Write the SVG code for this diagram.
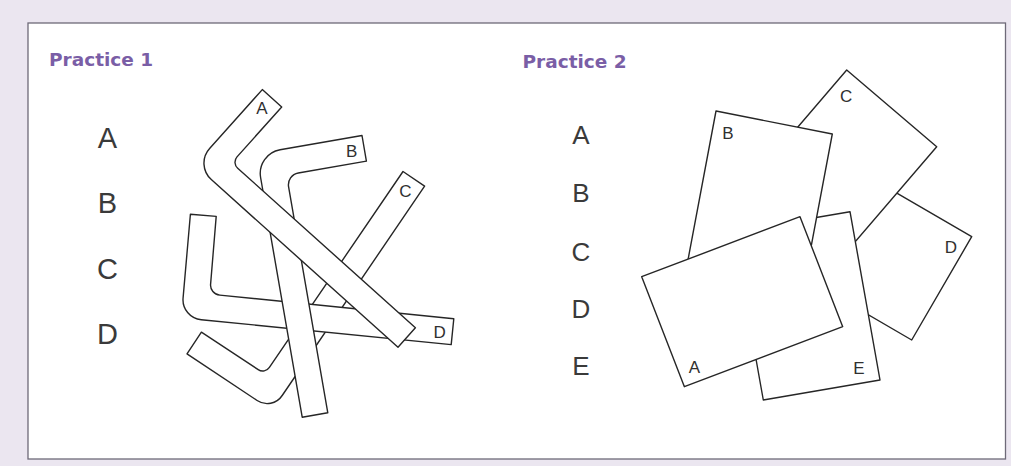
<svg xmlns="http://www.w3.org/2000/svg" width="1011" height="466" viewBox="0 0 1011 466">
<style>
.bg{fill:#ebe6f0}
.frame{fill:#ffffff;stroke:#6e6a78;stroke-width:1.3}
.shape{fill:#ffffff;stroke:#262626;stroke-width:1.4;stroke-linejoin:round}
.title{font-family:"DejaVu Sans","Liberation Sans",sans-serif;font-weight:bold;font-size:18.5px;fill:#7a5ea6}
.big{font-family:"Liberation Sans",Arial,sans-serif;fill:#3a3a3a;text-anchor:middle}
.lbl{font-family:"Liberation Sans",Arial,sans-serif;font-size:17px;fill:#303030;text-anchor:middle}
</style>
<rect class="bg" x="0" y="0" width="1011" height="466"/>
<rect class="frame" x="28" y="23" width="977.5" height="436"/>

<g id="practice1-title"><text class="title" x="49" y="65.5">Practice 1</text></g>
<g id="practice2-title"><text class="title" x="522.5" y="67.5">Practice 2</text></g>

<g id="practice1-options" class="big" font-size="29">
<text x="107.5" y="147.7">A</text>
<text x="107.5" y="213">B</text>
<text x="107.5" y="278.5">C</text>
<text x="107.5" y="344">D</text>
</g>

<g id="practice2-options" class="big" font-size="26">
<text x="581" y="143.5">A</text>
<text x="581" y="202">B</text>
<text x="581" y="260.5">C</text>
<text x="581" y="318">D</text>
<text x="581" y="374.5">E</text>
</g>

<!-- Practice 1: hex keys, bottom to top: C, D, B, A -->
<g id="p1-key-C">
<path class="shape" d="M424.6,186.1 L282.2,395.5 A18,18 0 0 1 257.1,400.5 L187.0,353.8 L201.4,332.2 L258.2,369.6 A8,8 0 0 0 269.4,367.4 L403.0,171.5 Z"/>
<text class="lbl" x="405.3" y="196.5">C</text>
</g>
<g id="p1-key-D">
<path class="shape" d="M190.4,214.2 L183.1,297.8 A20,20 0 0 0 201.3,319.7 L451.2,344.6 L453.8,318.8 L219.8,295.1 A10,10 0 0 1 210.6,284.1 L216.2,216.4 Z"/>
<text class="lbl" x="439.7" y="338.3">D</text>
</g>
<g id="p1-key-B">
<path class="shape" d="M362.0,135.5 L280.1,149.8 A24,24 0 0 0 260.6,177.5 L302.2,417.2 L327.8,412.8 L288.6,186.9 A12,12 0 0 1 298.3,173.0 L366.4,161.1 Z"/>
<text class="lbl" x="351.7" y="156.7">B</text>
</g>
<g id="p1-key-A">
<path class="shape" d="M262.3,89.6 L209.6,148.5 A22,22 0 0 0 211.3,179.6 L398.0,347.2 L415.4,327.8 L237.7,168.2 A8,8 0 0 1 237.0,156.9 L281.7,107.0 Z"/>
<text class="lbl" x="262" y="113.8">A</text>
</g>

<!-- Practice 2: cards, bottom to top: D, C, E, B, A -->
<g id="p2-card-D">
<polygon class="shape" points="971.7,236.7 911.7,340 799.4,274.7 859.4,171.4"/>
<text class="lbl" x="950.8" y="252.7" font-size="17.5">D</text>
</g>
<g id="p2-card-C">
<polygon class="shape" points="846.7,70 936.7,146.7 839,260.6 749,184"/>
<text class="lbl" x="846.2" y="101.5" font-size="17.5">C</text>
</g>
<g id="p2-card-E">
<polygon class="shape" points="733.3,231.7 850,211.7 880,380 763.3,400"/>
<text class="lbl" x="858.8" y="374.3" font-size="17.5">E</text>
</g>
<g id="p2-card-B">
<polygon class="shape" points="716,111 832.3,134 799,311 682.7,288"/>
<text class="lbl" x="728" y="139.3" font-size="17.5">B</text>
</g>
<g id="p2-card-A">
<polygon class="shape" points="641.7,276.7 800,216.7 842.7,326.7 684.4,386.7"/>
<text class="lbl" x="694.5" y="373.3" font-size="17.5">A</text>
</g>
</svg>
